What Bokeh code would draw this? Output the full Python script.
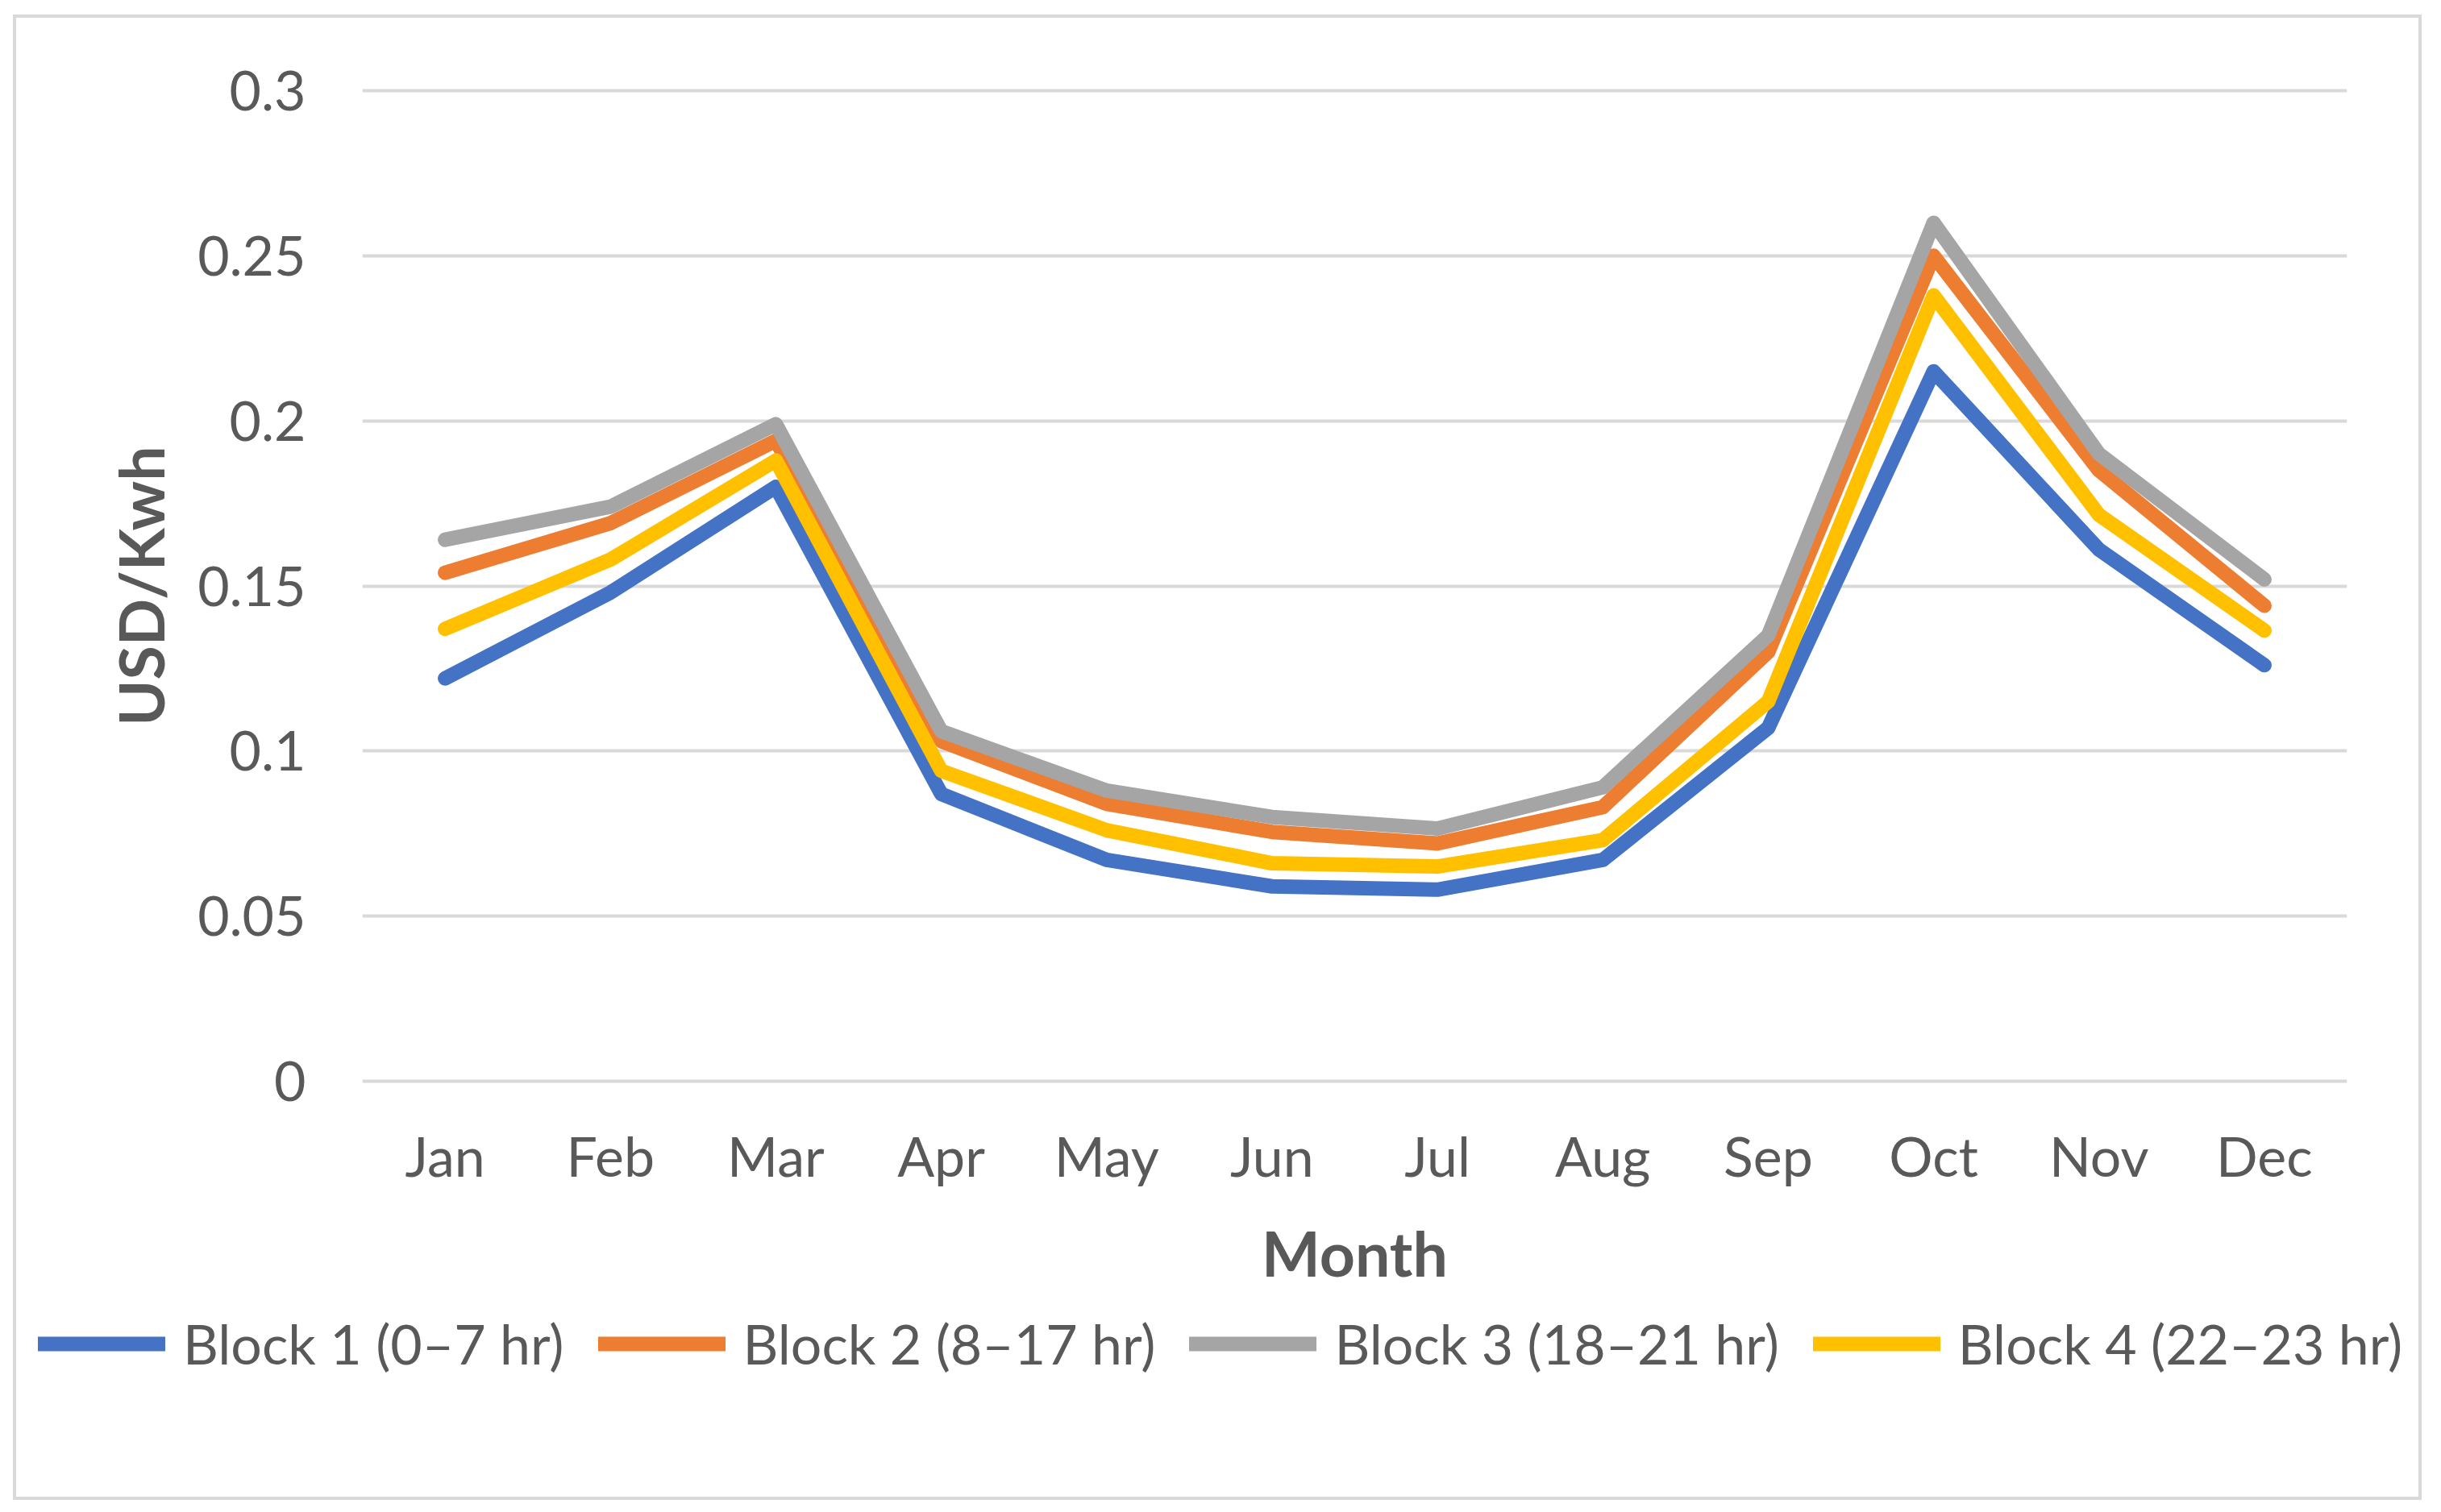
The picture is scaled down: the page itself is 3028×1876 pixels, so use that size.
from bokeh.plotting import figure
from bokeh.models import FactorRange, Range1d, FixedTicker, Legend, LegendItem
from bokeh.embed import file_html
from bokeh.resources import INLINE

months = ["Jan", "Feb", "Mar", "Apr", "May", "Jun",
          "Jul", "Aug", "Sep", "Oct", "Nov", "Dec"]
block1 = [0.122, 0.148, 0.180, 0.087, 0.067, 0.059, 0.058, 0.067, 0.107, 0.215, 0.161, 0.126]
block2 = [0.154, 0.169, 0.194, 0.103, 0.084, 0.0755, 0.072, 0.083, 0.130, 0.250, 0.185, 0.144]
block3 = [0.164, 0.174, 0.199, 0.106, 0.088, 0.080, 0.0765, 0.089, 0.135, 0.260, 0.190, 0.152]
block4 = [0.137, 0.158, 0.188, 0.094, 0.076, 0.066, 0.065, 0.073, 0.115, 0.238, 0.1715, 0.1365]
series_names = ["Block 1 (0\u20137 hr)", "Block 2 (8\u201317 hr)",
                "Block 3 (18\u201321 hr)", "Block 4 (22\u201323 hr)"]
series_colors = ["#4472C4", "#ED7D31", "#A5A5A5", "#FFC000"]
y_ticks = [0, 0.05, 0.1, 0.15, 0.2, 0.25, 0.3]
y_tick_labels = ["0", "0.05", "0.1", "0.15", "0.2", "0.25", "0.3"]

FONT = "Lato"
TXT = "#595959"
LW = 18
BC = "#D9D9D9"
W = 2980

top_shadow = (f"-4px 0 0 0 {BC}, 4px 0 0 0 {BC}, 0 -4px 0 0 {BC}, "
              f"-4px -4px 0 0 {BC}, 4px -4px 0 0 {BC}")
bottom_shadow = (f"-4px 0 0 0 {BC}, 4px 0 0 0 {BC}, 0 4px 0 0 {BC}, "
                 f"-4px 4px 0 0 {BC}, 4px 4px 0 0 {BC}")

p = figure(width=W, height=1603, x_range=FactorRange(*months),
           y_range=Range1d(-0.001, 0.301), output_backend="svg",
           toolbar_location=None, min_border_left=429, min_border_right=89,
           min_border_top=86, min_border_bottom=280,
           styles={"margin-left": "20px", "margin-top": "22px",
                   "box-shadow": top_shadow})
p.outline_line_color = None
p.background_fill_color = "white"
p.border_fill_color = "white"

p.xgrid.grid_line_color = None
p.ygrid.grid_line_color = BC
p.ygrid.grid_line_width = 4
p.yaxis.ticker = FixedTicker(ticks=y_ticks)
p.yaxis.major_label_overrides = {v: s for v, s in zip(y_ticks, y_tick_labels)}

for ax in (p.xaxis[0], p.yaxis[0]):
    ax.axis_line_color = None
    ax.major_tick_line_color = None
    ax.minor_tick_line_color = None
    ax.major_tick_out = 0
    ax.major_tick_in = 0
    ax.major_label_text_font = FONT
    ax.major_label_text_font_size = "68px"
    ax.major_label_text_color = TXT
    ax.axis_label_text_font = FONT
    ax.axis_label_text_font_size = "77px"
    ax.axis_label_text_font_style = "bold"
    ax.axis_label_text_color = TXT

p.xaxis.axis_label = "Month"
p.yaxis.axis_label = "USD/Kwh"
p.yaxis.major_label_standoff = 70
p.xaxis.major_label_standoff = 47
p.yaxis.axis_label_standoff = 22
p.xaxis.axis_label_standoff = 31

for vals, col in zip([block1, block2, block3, block4], series_colors):
    p.line(x=months, y=vals, line_color=col, line_width=LW,
           line_join="round", line_cap="round")

# legend strip below the chart (separate root so that it is not frame-aligned)
lf = figure(width=W, height=232, x_range=Range1d(0, 1), y_range=Range1d(0, 1),
            output_backend="svg", toolbar_location=None,
            min_border_left=0, min_border_right=0, min_border_top=0, min_border_bottom=0,
            styles={"margin-left": "20px", "box-shadow": bottom_shadow})
lf.axis.visible = False
lf.grid.visible = False
lf.outline_line_color = None
lf.border_fill_color = "white"
nan = float("nan")
leg_renderers = [lf.line(x=[nan, nan], y=[nan, nan], line_color=c, line_width=LW,
                         line_cap="round")
                 for c in series_colors]
legend = Legend(items=[LegendItem(label=n, renderers=[r]) for n, r in zip(series_names, leg_renderers)],
                orientation="horizontal", location=(27, 150),
                glyph_width=158, glyph_height=20, label_standoff=22, spacing=42,
                padding=0, margin=0, border_line_color=None, background_fill_alpha=0,
                label_text_font=FONT, label_text_font_size="68px", label_text_color=TXT)
lf.add_layout(legend, "center")

open("out.html", "w").write(file_html([p, lf], INLINE))
